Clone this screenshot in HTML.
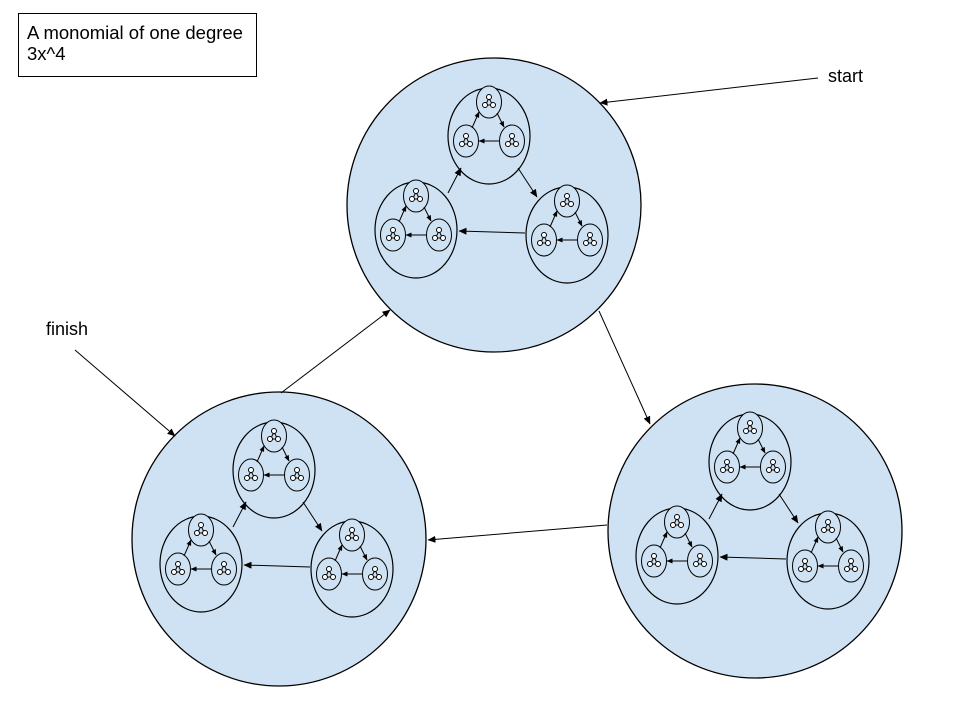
<!DOCTYPE html>
<html><head><meta charset="utf-8"><style>body{margin:0;background:#fff}svg{display:block}</style></head>
<body>
<svg width="960" height="720" viewBox="0 0 960 720" xmlns="http://www.w3.org/2000/svg" font-family="Liberation Sans, sans-serif">
<defs>
<marker id="a" markerWidth="8" markerHeight="7" refX="7.5" refY="3.5" orient="auto" markerUnits="userSpaceOnUse"><path d="M0,0 L8,3.5 L0,7 z" fill="#000"/></marker>
<marker id="s" markerWidth="6" markerHeight="5" refX="5.5" refY="2.5" orient="auto" markerUnits="userSpaceOnUse"><path d="M0,0 L6,2.5 L0,5 z" fill="#000"/></marker>
<g id="small">
<ellipse cx="0" cy="0" rx="12.5" ry="16" fill="#cfe2f3" stroke="#000" stroke-width="1"/>
<g fill="#fff" stroke="#000" stroke-width="1">
<line x1="0" y1="-4" x2="-3.5" y2="3"/><line x1="0" y1="-4" x2="3.5" y2="3"/><line x1="-3.5" y1="3" x2="3.5" y2="3"/>
<circle cx="0" cy="-5" r="2.5"/><circle cx="-4" cy="3" r="2.5"/><circle cx="4" cy="3" r="2.5"/>
</g>
</g>
<g id="mid">
<ellipse cx="0" cy="0" rx="41" ry="48" fill="#cfe2f3" stroke="#000" stroke-width="1.2"/>
<use href="#small" x="0" y="-34"/>
<use href="#small" x="-23" y="5"/>
<use href="#small" x="23" y="5"/>
<g stroke="#000" stroke-width="1">
<line x1="-17" y1="-8" x2="-10" y2="-24" marker-end="url(#s)"/>
<line x1="8" y1="-23" x2="15" y2="-9" marker-end="url(#s)"/>
<line x1="11" y1="5" x2="-10" y2="5" marker-end="url(#s)"/>
</g>
</g>
<g id="big">
<circle cx="0" cy="0" r="147" fill="#cfe2f3" stroke="#000" stroke-width="1.3"/>
<use href="#mid" x="-5" y="-69"/>
<use href="#mid" x="-78" y="25"/>
<use href="#mid" x="73" y="30"/>
<g stroke="#000" stroke-width="1">
<line x1="-46" y1="-12" x2="-33" y2="-37" marker-end="url(#a)"/>
<line x1="24" y1="-37" x2="43" y2="-8" marker-end="url(#a)"/>
<line x1="31" y1="28" x2="-35" y2="26" marker-end="url(#a)"/>
</g>
</g>
</defs>
<rect x="18.5" y="13.5" width="238" height="63" fill="#fff" stroke="#000"/>
<text x="27" y="39" font-size="18.5">A monomial of one degree</text>
<text x="27" y="60" font-size="18.5">3x^4</text>
<use href="#big" x="494" y="205"/>
<use href="#big" x="279" y="539"/>
<use href="#big" x="755" y="531"/>
<g stroke="#000" stroke-width="1">
<line x1="599" y1="311" x2="650" y2="424" marker-end="url(#a)"/>
<line x1="607" y1="525" x2="428" y2="540" marker-end="url(#a)"/>
<line x1="281" y1="393" x2="390" y2="310" marker-end="url(#a)"/>
<line x1="818" y1="78" x2="600" y2="103" marker-end="url(#a)"/>
<line x1="75" y1="350" x2="175" y2="436" marker-end="url(#a)"/>
</g>
<text x="828" y="82" font-size="18">start</text>
<text x="46" y="335" font-size="18">finish</text>
</svg>
</body></html>
